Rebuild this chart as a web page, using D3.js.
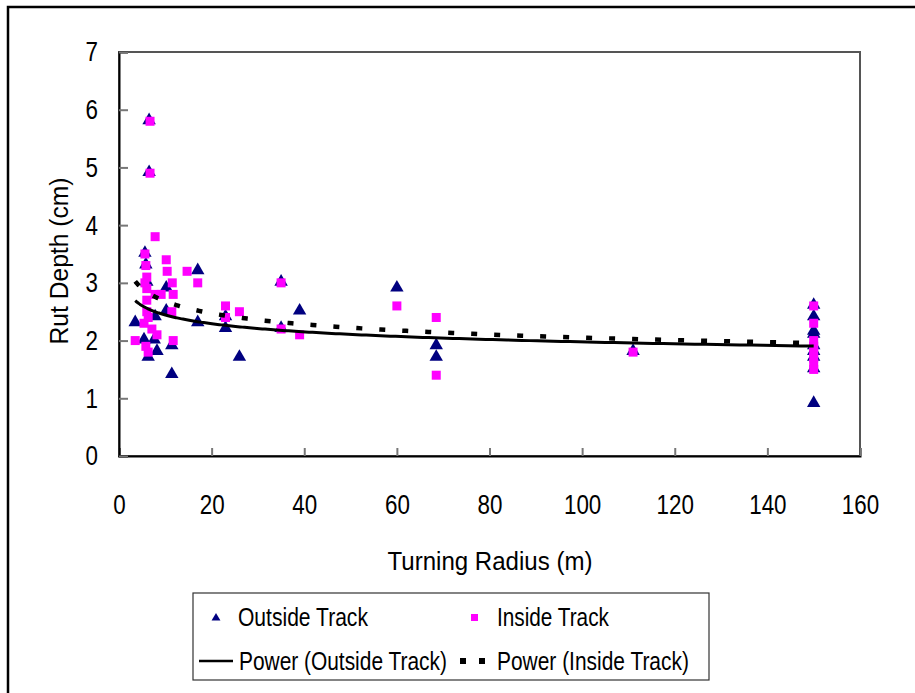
<!DOCTYPE html>
<html><head><meta charset="utf-8">
<script src="https://cdn.jsdelivr.net/npm/d3@7"></script>
<style>body{margin:0;background:#fff;}svg{display:block;font-family:"Liberation Sans",Arial,sans-serif;}</style>
</head><body>
<svg id="c" width="915" height="693"></svg>
<script>
const outsideX = [3.5,5.4,5.6,5.8,6,6.3,6.5,6.5,7.6,7.8,8.2,10.2,10.2,11.4,11.4,17,17,23,23,26,35,35,39,60,68.5,68.5,111,150,150,150,150,150,150,150,150,150];
const outsideY = [2.3,2.0,3.5,3.3,3.0,1.7,5.8,4.9,2.0,2.4,1.8,2.9,2.5,1.9,1.4,3.2,2.3,2.4,2.2,1.7,3.0,2.2,2.5,2.9,1.9,1.7,1.8,2.6,2.4,2.15,2.1,1.9,1.8,1.7,1.5,0.9];
const insideX = [3.5,5.4,5.6,5.6,5.8,5.8,6,6,6,6,6.3,6.3,6.7,6.7,7.1,7.8,7.8,8.2,9.1,10.2,10.4,11.4,11.5,11.7,11.7,14.7,17,23,23,26,35,35,39,60,68.5,68.5,111,150,150,150,150,150,150,150,150];
const insideY = [2.0,2.3,3.0,3.5,1.9,3.3,3.1,2.9,2.7,2.5,2.4,1.8,5.8,4.9,2.2,3.8,2.8,2.1,2.8,3.4,3.2,2.5,3.0,2.8,2.0,3.2,3.0,2.6,2.4,2.5,3.0,2.2,2.1,2.6,2.4,1.4,1.8,2.6,2.3,2.0,1.9,1.8,1.7,1.6,1.5];
// power trendline coefficients (y = a * x^b)
const outsideTrend = {a:3.02, b:-0.092};
const insideTrend = {a:3.50, b:-0.116};
const xTicks = [0,20,40,60,80,100,120,140,160];
const yTicks = [0,1,2,3,4,5,6,7];
const seriesNames = ["Outside Track","Inside Track","Power (Outside Track)","Power (Inside Track)"];
const colors = {outside:"#000080", inside:"#FF00FF", trend:"#000000"};

const svg = d3.select("#c");
const L=119, R=860, T=52, B=456;
const x = d3.scaleLinear().domain([0,160]).range([L,R]);
const y = d3.scaleLinear().domain([0,7]).range([B,T]);

function squeeze(sel, s){
  sel.each(function(){
    const ax = +(this.getAttribute("x")||0);
    const prev = this.getAttribute("transform")||"";
    this.setAttribute("transform", `${prev} translate(${ax*(1-s)},0) scale(${s},1)`);
  });
}
function fitWidth(sel, w){
  sel.each(function(){
    const nat = this.getComputedTextLength();
    squeeze(d3.select(this), w/nat);
  });
}

svg.append("rect").attr("x",8).attr("y",7).attr("width",930).attr("height",720)
  .attr("fill","none").attr("stroke","#000").attr("stroke-width",2.5);

svg.append("rect").attr("x",L).attr("y",T).attr("width",R-L).attr("height",B-T)
  .attr("fill","none").attr("stroke","#555").attr("stroke-width",2);

const xAxis = d3.axisBottom(x).tickValues(xTicks).tickSize(-8).tickPadding(38).tickFormat(d3.format("d"));
const gx = svg.append("g").attr("transform",`translate(0,${B})`).call(xAxis);
const yAxis = d3.axisLeft(y).tickValues(yTicks).tickSize(-9).tickPadding(21).tickFormat(d3.format("d"));
const gy = svg.append("g").attr("transform",`translate(${L},0)`).call(yAxis);
[gx,gy].forEach(g=>{
  g.select(".domain").attr("stroke","#000").attr("stroke-width",2);
  g.selectAll(".tick line").attr("stroke","#777").attr("stroke-width",2);
  g.selectAll(".tick text").attr("font-size",28).attr("fill","#000").attr("font-family","Liberation Sans, Arial, sans-serif");
  squeeze(g.selectAll(".tick text"), 0.8);
});

const xt = svg.append("text").attr("x",490).attr("y",570).attr("text-anchor","middle").attr("font-size",26).text("Turning Radius (m)");
fitWidth(xt, 205);
const yt = svg.append("text").attr("x",0).attr("y",0).attr("transform","translate(68,261) rotate(-90)").attr("text-anchor","middle").attr("font-size",26).text("Rut Depth (cm)");
fitWidth(yt, 167);

const tri = d3.symbol().type(d3.symbolTriangle).size(78);
const outside = outsideX.map((v,i)=>({x:v,y:outsideY[i]}));
const inside = insideX.map((v,i)=>({x:v,y:insideY[i]}));

svg.append("g").selectAll("path").data(outside).join("path")
  .attr("d",tri).attr("transform",d=>`translate(${x(d.x)},${y(d.y)-1})`).attr("fill",colors.outside);
svg.append("g").selectAll("rect").data(inside).join("rect")
  .attr("x",d=>x(d.x)-4.5).attr("y",d=>y(d.y)-4.5).attr("width",9).attr("height",9).attr("fill",colors.inside);

function trendPts(f, xs){
  const mn=d3.min(xs), mx=d3.max(xs), out=[], N=200;
  for(let i=0;i<=N;i++){const xv=mn*Math.pow(mx/mn,i/N); out.push([xv,f.a*Math.pow(xv,f.b)]);}
  return out;
}
const line = d3.line().x(d=>x(d[0])).y(d=>y(d[1]));
svg.append("path").attr("d",line(trendPts(outsideTrend,outsideX))).attr("fill","none").attr("stroke",colors.trend).attr("stroke-width",3);
svg.append("path").attr("d",line(trendPts(insideTrend,insideX))).attr("fill","none").attr("stroke",colors.trend).attr("stroke-width",4.5).attr("stroke-dasharray","6,17");

const lg = svg.append("g");
lg.append("rect").attr("x",193).attr("y",593).attr("width",516).attr("height",87).attr("fill","#fff").attr("stroke","#333").attr("stroke-width",1.2);
lg.append("path").attr("d",d3.symbol().type(d3.symbolTriangle).size(34)).attr("transform","translate(216,618)").attr("fill",colors.outside);
lg.append("rect").attr("x",471).attr("y",614).attr("width",7).attr("height",7).attr("fill",colors.inside);
lg.append("line").attr("x1",199).attr("x2",233).attr("y1",661).attr("y2",661).attr("stroke","#000").attr("stroke-width",2.5);
lg.append("rect").attr("x",460).attr("y",658).attr("width",6).attr("height",6).attr("fill","#000");
lg.append("rect").attr("x",479).attr("y",658).attr("width",6).attr("height",6).attr("fill","#000");
const lt = [[238,626,seriesNames[0],130],[497,626,seriesNames[1],112],[239,670,seriesNames[2],208],[497,670,seriesNames[3],192]];
lt.forEach(t=>{
  const el = lg.append("text").attr("x",t[0]).attr("y",t[1]).attr("font-size",26).text(t[2]);
  fitWidth(el, t[3]);
});
</script>
</body></html>
